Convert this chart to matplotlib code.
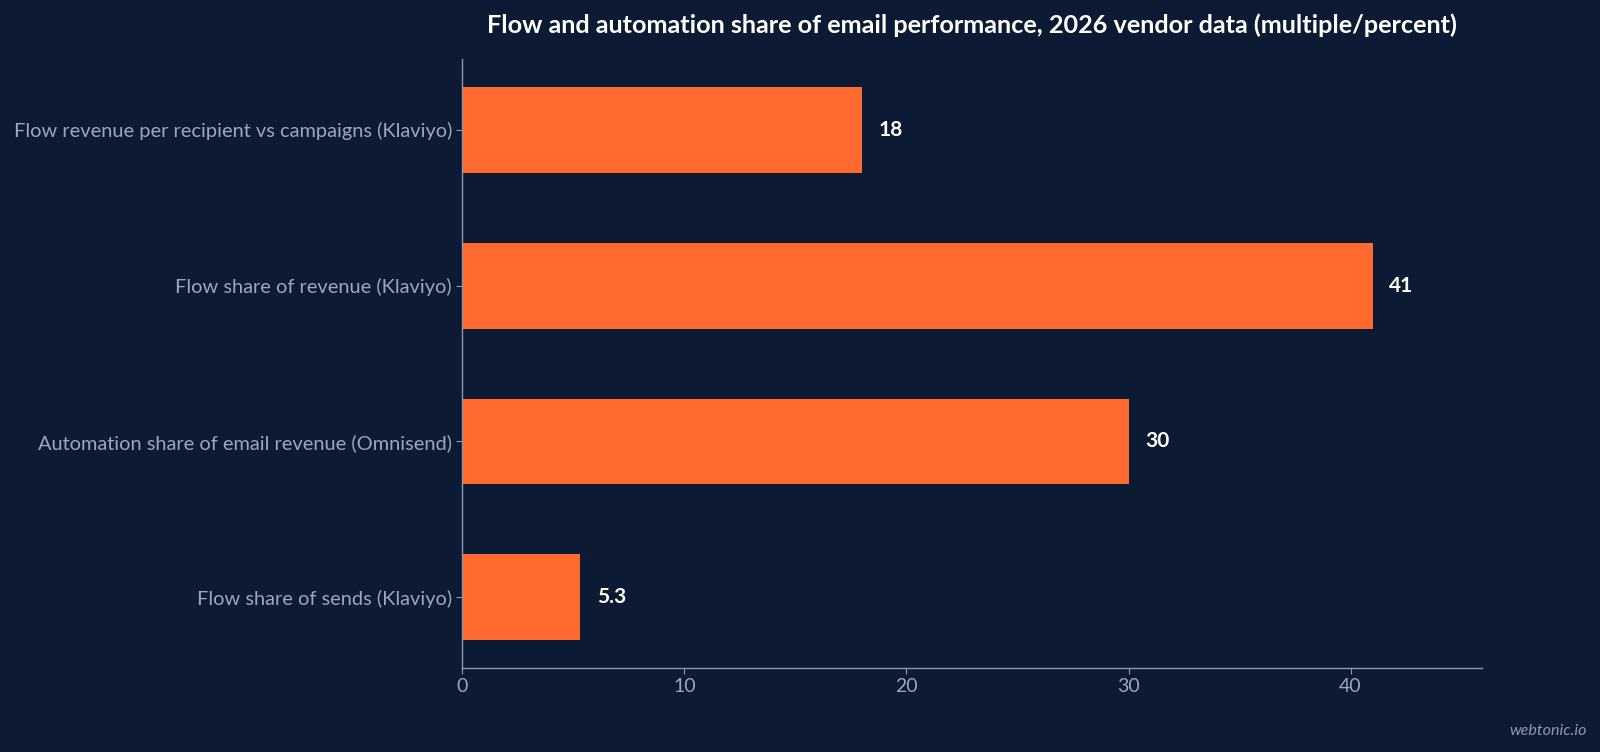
import matplotlib.pyplot as plt

categories = [
    "Flow revenue per recipient vs campaigns (Klaviyo)",
    "Flow share of revenue (Klaviyo)",
    "Automation share of email revenue (Omnisend)",
    "Flow share of sends (Klaviyo)",
]
values = [18, 41, 30, 5.3]
value_labels = ["18", "41", "30", "5.3"]

bg = "#0c1b33"
bar_color = "#ff6b2f"
tick_color = "#9aa8bd"
spine_color = "#8a99b0"

plt.rcParams["font.family"] = ["Lato", "DejaVu Sans"]

fig = plt.figure(figsize=(16, 7.52), dpi=100, facecolor=bg)
ax = fig.add_axes([0.289, 0.112, 0.637, 0.809])
ax.set_facecolor(bg)

ypos = list(range(len(categories)))
ax.barh(ypos, values, height=0.55, color=bar_color)
ax.invert_yaxis()
ax.set_yticks(ypos)
ax.set_yticklabels(categories)
ax.set_xlim(0, 45.9)

for y, v, lab in zip(ypos, values, value_labels):
    ax.text(v + 0.75, y, lab, va="center", ha="left", color="white",
            fontsize=15, fontweight="bold")

for s in ["top", "right"]:
    ax.spines[s].set_visible(False)
for s in ["left", "bottom"]:
    ax.spines[s].set_color(spine_color)
    ax.spines[s].set_linewidth(1.0)

ax.tick_params(axis="y", colors=spine_color, labelcolor=tick_color, labelsize=14.4, length=4)
ax.tick_params(axis="x", colors=spine_color, labelcolor=tick_color, labelsize=14, length=4)

ax.set_title("Flow and automation share of email performance, 2026 vendor data (multiple/percent)",
             color="white", fontsize=18.2, fontweight="bold", pad=19)

fig.text(0.992, 0.028, "webtonic.io", ha="right", va="center", color="#8a99b0",
         fontsize=11.6, style="italic")

fig.savefig("out.png", dpi=100, facecolor=bg)
